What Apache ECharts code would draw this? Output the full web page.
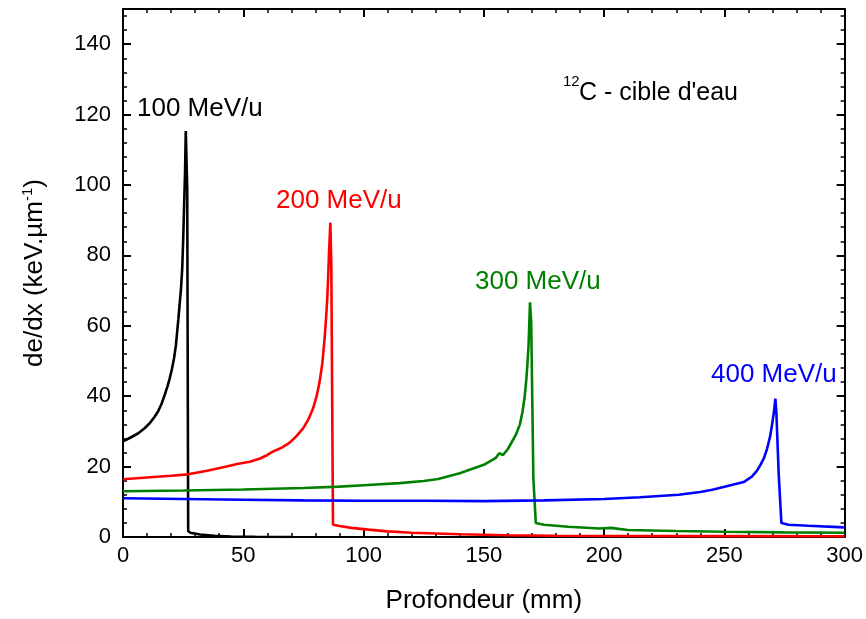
<!DOCTYPE html>
<html>
<head>
<meta charset="utf-8">
<script src="https://cdn.jsdelivr.net/npm/echarts@6/dist/echarts.min.js"></script>
<style>
  html, body { margin: 0; padding: 0; background: #fff; }
  #chart { width: 866px; height: 619px; }
</style>
</head>
<body>
<div id="chart"></div>
<script>
// Stopping power curves of carbon ions in water (depth in mm, dE/dx in keV/µm)
const depth100 = [0, 3, 6.2, 9, 11.1, 13, 14.5, 16, 17.3, 18.5, 19.4, 20.3, 21.2, 22, 22.5, 23, 23.5, 24.1, 24.6, 25, 25.4, 25.8, 26.1, 26.7, 27.1, 28, 32, 38, 45, 55, 70];
const dedx100  = [27.2, 28.2, 29.4, 30.9, 32.3, 34, 35.6, 37.8, 40.3, 42.8, 45, 47.6, 50.7, 54.5, 58.2, 61.8, 65.7, 70.5, 76, 84, 94, 104, 115.3, 98.8, 1.7, 1.2, 0.7, 0.35, 0.15, 0.05, 0];

const depth200 = [0, 10, 20, 27, 35, 43, 48, 52.7, 57, 60, 62.4, 66, 69.3, 72, 74.8, 77, 79, 80.5, 81.7, 82.8, 83.8, 84.4, 84.9, 85.3, 85.6, 86.2, 86.6, 87.3, 90, 95, 102, 110, 120, 140, 160, 180, 200, 250, 300];
const dedx200  = [16.4, 16.9, 17.4, 17.8, 18.8, 20, 20.8, 21.4, 22.3, 23.3, 24.3, 25.4, 26.8, 28.6, 30.8, 33.3, 36.5, 40, 44, 49, 56.3, 62, 67.6, 74, 79.9, 89.3, 77, 3.5, 3.1, 2.6, 2.1, 1.6, 1.2, 0.8, 0.5, 0.35, 0.3, 0.25, 0.2];

const depth300 = [0, 25, 50, 75, 90, 100, 115, 125, 131, 140, 150, 155, 156.4, 158, 160, 163.3, 165, 166.1, 167, 167.7, 168.2, 168.6, 169.2, 169.7, 170.6, 171.6, 175, 185, 198, 203, 206, 210, 230, 250, 275, 300];
const dedx300  = [13, 13.2, 13.5, 13.9, 14.3, 14.7, 15.3, 15.9, 16.5, 18.1, 20.5, 22.5, 23.8, 23.3, 25, 29, 32, 35.6, 40, 45, 50, 54.4, 66.7, 61, 16.7, 4, 3.5, 2.9, 2.4, 2.6, 2.3, 2.0, 1.7, 1.5, 1.3, 1.2];

const depth400 = [0, 25, 50, 75, 100, 125, 150, 175, 200, 215, 231, 240, 245, 253, 258, 261.5, 263.5, 265, 266.5, 267.8, 269, 269.8, 270.6, 271.2, 271.6, 272.6, 273.7, 276.7, 285, 297.5, 300];
const dedx400  = [11, 10.8, 10.6, 10.4, 10.3, 10.3, 10.2, 10.4, 10.8, 11.3, 12, 12.8, 13.4, 14.8, 15.6, 17.2, 18.8, 20.5, 22.5, 25.2, 28.5, 31.8, 35.5, 39.3, 35.6, 17.6, 4, 3.5, 3.2, 2.8, 2.7];

const energyLabels = ['100 MeV/u', '200 MeV/u', '300 MeV/u', '400 MeV/u'];
const curveColors = ['#000000', '#ff0000', '#008000', '#0000ff'];

const curves = [[depth100, dedx100], [depth200, dedx200], [depth300, dedx300], [depth400, dedx400]];

const FONT = 'Liberation Sans, Arial, sans-serif';

function pairs(xs, ys) { return xs.map((x, i) => [x, ys[i]]); }

const chart = echarts.init(document.getElementById('chart'), null, { renderer: 'canvas' });

const tickCommon = {
  axisLine: { show: true, onZero: false, lineStyle: { color: '#000', width: 2 } },
  axisTick: { show: true, inside: true, length: 8, lineStyle: { color: '#000', width: 2 } },
  splitLine: { show: false }
};
const minorStyle = { show: true, splitNumber: 5, length: 4, lineStyle: { color: '#000', width: 1.5 } };

const option = {
  animation: false,
  backgroundColor: '#fff',
  grid: { left: 123, right: 20, top: 9, bottom: 80, containLabel: false },
  xAxis: [
    Object.assign({
      type: 'value', min: 0, max: 300, interval: 50, position: 'bottom',
      name: 'Profondeur (mm)', nameLocation: 'middle', nameGap: 51,
      nameTextStyle: { fontFamily: FONT, fontSize: 26, color: '#000' },
      axisLabel: { fontFamily: FONT, fontSize: 22, color: '#000', margin: 8 },
      minorTick: minorStyle
    }, tickCommon),
    Object.assign({
      type: 'value', min: 0, max: 300, interval: 50, position: 'top',
      axisLabel: { show: false },
      minorTick: minorStyle
    }, tickCommon)
  ],
  yAxis: [
    Object.assign({
      type: 'value', min: 0, max: 150, interval: 20, position: 'left',
      name: '{b|de/dx (keV.µm}{s|-1}{b|)}', nameLocation: 'middle', nameGap: 74,
      nameTextStyle: {
        fontFamily: FONT, fontSize: 26, color: '#000',
        rich: {
          b: { fontFamily: FONT, fontSize: 26, color: '#000' },
          s: { fontFamily: FONT, fontSize: 15, color: '#000', padding: [0, 0, 14, 0] }
        }
      },
      axisLabel: { fontFamily: FONT, fontSize: 22, color: '#000', margin: 12, showMaxLabel: false },
      minorTick: minorStyle
    }, tickCommon),
    Object.assign({
      type: 'value', min: 0, max: 150, interval: 20, position: 'right',
      axisLabel: { show: false },
      minorTick: minorStyle
    }, tickCommon)
  ],
  series: curves.map((c, i) => ({
    name: energyLabels[i],
    type: 'line',
    xAxisIndex: 0,
    yAxisIndex: 0,
    data: pairs(c[0], c[1]),
    showSymbol: false,
    symbol: 'none',
    lineStyle: { color: curveColors[i], width: 2.6 },
    z: 3 + i
  })),
  graphic: [
    { type: 'text', left: 137, top: 96, style: { text: energyLabels[0], fill: curveColors[0], font: '26px ' + FONT } },
    { type: 'text', left: 276, top: 188, style: { text: energyLabels[1], fill: curveColors[1], font: '26px ' + FONT } },
    { type: 'text', left: 475, top: 269, style: { text: energyLabels[2], fill: curveColors[2], font: '26px ' + FONT } },
    { type: 'text', left: 711, top: 362, style: { text: energyLabels[3], fill: curveColors[3], font: '26px ' + FONT } },
    { type: 'text', left: 563, top: 74, style: { text: '12', fill: '#000', font: '15px ' + FONT } },
    { type: 'text', left: 579, top: 81, style: { text: "C - cible d'eau", fill: '#000', font: '25px ' + FONT } }
  ]
};

chart.setOption(option);
</script>
</body>
</html>
